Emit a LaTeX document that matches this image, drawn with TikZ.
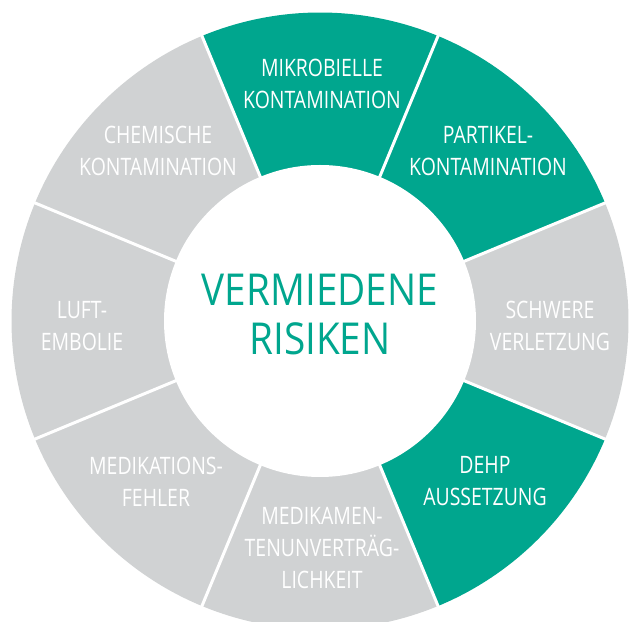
\documentclass[tikz,border=0pt]{standalone}
\usepackage{fontspec}
\newfontfamily\lblfont{Open Sans}[FakeStretch=0.81]
\newfontfamily\ctrfont{Open Sans}[FakeStretch=0.88]
\definecolor{teal}{RGB}{0,166,142}
\definecolor{lgray}{RGB}{208,210,211}
\tikzset{
  seglabel/.style={text=white, align=center, inner sep=0pt, font=\lblfont\fontsize{24}{32}\selectfont},
  ctrlabel/.style={text=teal, align=center, inner sep=0pt, font=\ctrfont\fontsize{44}{49}\selectfont},
  sep/.style={white, line width=3pt}
}
\begin{document}
\begin{tikzpicture}[x=1pt,y=1pt]
\useasboundingbox (0,0) rectangle (637,621);
\clip (0,0) rectangle (637,621);
\coordinate (c) at (320,300);
\def\Ro{308.5}
\foreach \a/\col in {90/teal,45/teal,0/lgray,-45/teal,-90/lgray,-135/lgray,180/lgray,135/lgray}{
  \pgfmathsetmacro\sa{\a-22.5}
  \pgfmathsetmacro\ea{\a+22.5}
  \fill[\col] (c) -- ++(\sa:\Ro) arc[start angle=\sa, end angle=\ea, radius=\Ro] -- cycle;
}
\foreach \b in {22.5,67.5,112.5,157.5,202.5,247.5,292.5,337.5}{
  \draw[sep] (c) -- ++(\b:315);
}
\fill[white] (c) circle (156);
\node[ctrlabel] (ctr) at (320,306.5) {VERMIEDENE\\RISIKEN};
\node[seglabel] (mikro) at (322,537) {MIKROBIELLE\\KONTAMINATION};
\node[seglabel] (part) at (488,470) {PARTIKEL-\\KONTAMINATION};
\node[seglabel] (chem) at (158,470) {CHEMISCHE\\KONTAMINATION};
\node[seglabel] (luft) at (82,295) {LUFT-\\EMBOLIE};
\node[seglabel] (schw) at (550,295) {SCHWERE\\VERLETZUNG};
\node[seglabel] (mfehl) at (156,139.5) {MEDIKATIONS-\\FEHLER};
\node[seglabel] (dehp) at (485,139.5) {DEHP\\AUSSETZUNG};
\node[seglabel] (mverb) at (322,73) {MEDIKAMEN-\\TENUNVERTRÄG-\\LICHKEIT};
\end{tikzpicture}
\end{document}
